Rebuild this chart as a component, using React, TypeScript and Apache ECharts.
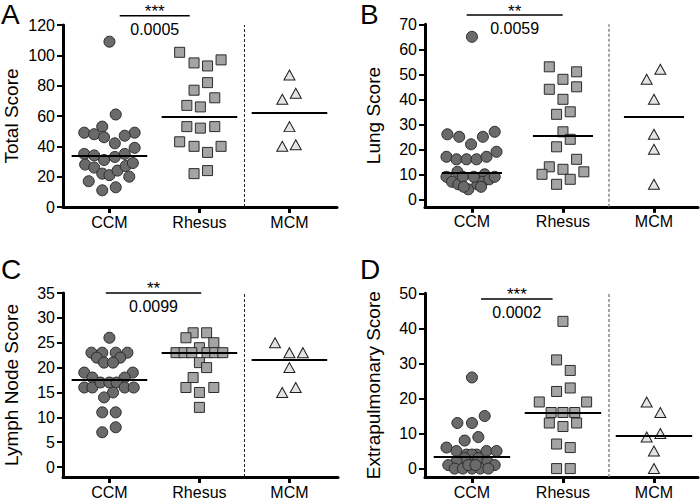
import React, { useEffect, useRef } from "react";
import * as echarts from "echarts";

const groups = ["CCM", "Rhesus", "MCM"];

// Panel A – Total Score
const totalCCM = [109, 61, 53, 49, 48, 46, 49, 47, 42, 39, 35, 34, 31, 33, 35, 28, 26, 22, 21, 24, 27, 29, 20, 17, 11, 13];
const totalCCMJitter = [0, 0.07, -0.08, -0.28, -0.17, -0.06, 0.28, 0.17, 0.06, 0.28, -0.28, -0.17, -0.06, 0.06, 0.17, -0.27, -0.17, -0.08, 0, 0.09, 0.18, 0.26, 0.22, -0.23, -0.08, 0.07];
const totalRhesus = [102, 95, 93, 97, 82, 77, 72, 67, 66, 53, 52, 53, 43, 40, 40, 36, 22, 24];
const totalRhesusJitter = [-0.22, -0.06, 0.09, 0.24, 0.09, -0.06, 0.17, -0.14, 0.01, -0.14, 0.01, 0.17, -0.22, -0.06, 0.24, 0.09, -0.06, 0.09];
const totalMCM = [87, 71, 75, 53, 40, 41];
const totalMCMJitter = [0, -0.08, 0.07, 0, -0.08, 0.07];
const totalTicks = [0, 20, 40, 60, 80, 100, 120];

// Panel B – Lung Score
const lungCCM = [65, 26, 25, 22, 25, 27, 17, 16, 16, 16, 17, 19, 11, 10, 9, 7, 6, 4, 6, 7, 8, 9, 9, 9, 5, 5];
const lungCCMJitter = [0, -0.27, -0.14, -0.01, 0.12, 0.25, -0.28, -0.17, -0.06, 0.05, 0.16, 0.27, -0.16, 0.14, -0.28, -0.22, -0.15, -0.04, 0.06, 0.12, 0.19, 0.25, -0.1, 0.02, -0.09, 0.1];
const lungRhesus = [53, 51, 48, 45, 44, 40, 34, 35, 27, 24, 21, 16, 13, 12, 10, 11, 8, 6];
const lungRhesusJitter = [-0.15, 0.15, 0, 0.15, -0.15, 0, -0.07, 0.08, 0, 0.08, -0.07, 0.15, -0.15, 0, -0.23, 0.23, 0.08, -0.07];
const lungMCM = [52, 48, 40, 26, 20, 6];
const lungMCMJitter = [0.07, -0.08, 0, 0, 0, 0];
const lungTicks = [0, 10, 20, 30, 40, 50, 60, 70];

// Panel C – Lymph Node Score
const lymphCCM = [26, 23, 23, 23, 23, 22, 22, 21, 21, 19, 19, 18, 18, 16, 16, 17, 17, 17, 16, 16, 15, 14, 11, 11, 8, 7];
const lymphCCMJitter = [0, -0.2, -0.08, 0.07, 0.2, -0.14, 0.12, -0.06, 0.04, -0.28, 0.26, -0.19, 0.17, -0.28, -0.19, -0.1, 0, 0.08, 0.17, 0.27, 0.04, -0.06, -0.08, 0.07, 0.07, -0.08];
const lymphRhesus = [27, 27, 26, 25, 24, 23, 23, 23, 23, 23, 23, 21, 20, 18, 16, 16, 15, 12];
const lymphRhesusJitter = [-0.07, 0.08, -0.15, 0.16, 0, -0.26, -0.17, -0.085, 0.085, 0.17, 0.26, 0, 0.08, -0.07, -0.15, 0.16, 0, 0];
const lymphMCM = [25, 23, 23, 20, 15, 16];
const lymphMCMJitter = [-0.16, 0, 0.15, 0, -0.08, 0.07];
const lymphTicks = [0, 5, 10, 15, 20, 25, 30, 35];

// Panel D – Extrapulmonary Score
const extraCCM = [26, 15, 13, 13, 8, 9, 6, 5, 4, 4, 5, 5, 4, 3, 3, 2, 2, 1, 1, 0, 0, 0, 0, 0, 1, 1];
const extraCCMJitter = [0, 0.14, -0.16, 0, -0.08, 0.07, -0.28, -0.17, -0.06, 0.05, 0.16, 0.27, 0, -0.08, 0.07, -0.17, 0.17, -0.26, 0.25, -0.19, -0.1, 0, 0.09, 0.18, -0.04, 0.04];
const extraRhesus = [42, 31, 28, 23, 22, 19, 19, 16, 16, 16, 13, 13, 12, 7, 6, 0, 0];
const extraRhesusJitter = [0, -0.07, 0.08, 0.08, -0.07, -0.26, 0.26, -0.13, 0, 0.13, -0.15, 0.15, 0, -0.07, 0.08, -0.07, 0.08];
const extraMCM = [19, 16, 10, 9, 5, 0];
const extraMCMJitter = [-0.08, 0.07, 0.07, -0.08, 0, 0];
const extraTicks = [0, 10, 20, 30, 40, 50];

const FONT = "'Liberation Sans', Arial, Helvetica, sans-serif";

const median = (arr: number[]) => {
  const s = [...arr].sort((a, b) => a - b);
  const n = s.length;
  return n % 2 ? s[(n - 1) / 2] : (s[n / 2 - 1] + s[n / 2]) / 2;
};

type Panel = {
  letter: string;
  letterPos: [number, number];
  yName: string;
  nameGap: number;
  grid: { left: number; top: number; width: number; height: number };
  xMin: number;
  xMax: number;
  yMin: number;
  yMax: number;
  yTicks: number[];
  data: [number[], number[]][];
  medianHalf: number;
  sig: { stars: string; p: string; x1: number; x2: number; y: number };
  starsDy: number;
  pDy: number;
  dashColor: string;
  dashWidth: number;
};

const panels: Panel[] = [
  {
    letter: "A", letterPos: [1, 0], yName: "Total Score", nameGap: 42,
    grid: { left: 63, top: 25, width: 274, height: 182 },
    xMin: -0.516, xMax: 2.528, yMin: 0, yMax: 120, yTicks: totalTicks,
    data: [[totalCCM, totalCCMJitter], [totalRhesus, totalRhesusJitter], [totalMCM, totalMCMJitter]],
    medianHalf: 0.42,
    sig: { stars: "***", p: "0.0005", x1: 0.114, x2: 0.892, y: 126.1 },
    starsDy: -4, pDy: 14, dashColor: "#222", dashWidth: 1,
  },
  {
    letter: "B", letterPos: [360, 0], yName: "Lung Score", nameGap: 42,
    grid: { left: 425, top: 24.3, width: 273, height: 182.5 },
    xMin: -0.516, xMax: 2.484, yMin: -3, yMax: 70, yTicks: lungTicks,
    data: [[lungCCM, lungCCMJitter], [lungRhesus, lungRhesusJitter], [lungMCM, lungMCMJitter]],
    medianHalf: 0.33,
    sig: { stars: "**", p: "0.0059", x1: -0.058, x2: 0.997, y: 73.7 },
    starsDy: -4, pDy: 13, dashColor: "#888", dashWidth: 1.5,
  },
  {
    letter: "C", letterPos: [1, 255], yName: "Lymph Node Score", nameGap: 42,
    grid: { left: 63, top: 293, width: 275, height: 184 },
    xMin: -0.516, xMax: 2.54, yMin: -2, yMax: 35, yTicks: lymphTicks,
    data: [[lymphCCM, lymphCCMJitter], [lymphRhesus, lymphRhesusJitter], [lymphMCM, lymphMCMJitter]],
    medianHalf: 0.42,
    sig: { stars: "**", p: "0.0099", x1: -0.04, x2: 1.02, y: 35 },
    starsDy: -5, pDy: 13.5, dashColor: "#222", dashWidth: 1,
  },
  {
    letter: "D", letterPos: [360, 255], yName: "Extrapulmonary Score", nameGap: 42,
    grid: { left: 425, top: 293.3, width: 273, height: 183.7 },
    xMin: -0.516, xMax: 2.484, yMin: -2.4, yMax: 50, yTicks: extraTicks,
    data: [[extraCCM, extraCCMJitter], [extraRhesus, extraRhesusJitter], [extraMCM, extraMCMJitter]],
    medianHalf: 0.42,
    sig: { stars: "***", p: "0.0002", x1: 0.1, x2: 0.886, y: 48.4 },
    starsDy: -4, pDy: 13.5, dashColor: "#888", dashWidth: 1.5,
  },
];

const markerStyles = [
  { symbol: "circle", symbolSize: 11, color: "#6a6a6a", border: "#2b2b2b" },
  { symbol: "rect", symbolSize: 10, color: "#a4a4a4", border: "#2b2b2b" },
  { symbol: "triangle", symbolSize: [11, 10], color: "#e4e4e4", border: "#1e1e1e" },
];

export default function App() {
  const ref = useRef<HTMLDivElement>(null);
  useEffect(() => {
    if (!ref.current) return;
    const chart = echarts.init(ref.current, undefined, { renderer: "svg" });

    const grid: any[] = [];
    const xAxis: any[] = [];
    const yAxis: any[] = [];
    const series: any[] = [];

    panels.forEach((p, pi) => {
      grid.push({ ...p.grid, containLabel: false, outerBoundsMode: "none" });
      xAxis.push({
        type: "value",
        gridIndex: pi,
        min: p.xMin,
        max: p.xMax,
        axisLine: { show: true, onZero: false, lineStyle: { color: "#000", width: 3 } },
        axisTick: { show: true, customValues: [0, 1, 2], length: 6, lineStyle: { color: "#000", width: 3 } },
        axisLabel: {
          show: true,
          customValues: [0, 1, 2],
          formatter: (v: number) => groups[Math.round(v)] ?? "",
          color: "#000",
          fontFamily: FONT,
          fontSize: 16,
          margin: 7,
        },
        splitLine: { show: false },
      });
      yAxis.push({
        type: "value",
        gridIndex: pi,
        min: p.yMin,
        max: p.yMax,
        name: p.yName,
        nameLocation: "middle",
        nameGap: p.nameGap,
        nameTextStyle: { fontFamily: FONT, fontSize: 19, color: "#000" },
        axisLine: { show: true, onZero: false, lineStyle: { color: "#000", width: 3 } },
        axisTick: { show: true, customValues: p.yTicks, length: 6, lineStyle: { color: "#000", width: 2 } },
        axisLabel: {
          show: true,
          customValues: p.yTicks,
          color: "#000",
          fontFamily: FONT,
          fontSize: 16,
          margin: 8,
        },
        splitLine: { show: false },
      });
      p.data.forEach(([vals, jit], gi) => {
        const m = markerStyles[gi];
        const med = median(vals);
        const markData: any[] = [
          [
            { coord: [gi - p.medianHalf, med], lineStyle: { color: "#000", width: 2, type: "solid" } },
            { coord: [gi + p.medianHalf, med] },
          ],
        ];
        if (gi === 2) {
          markData.push({
            xAxis: 1.5,
            lineStyle: { color: p.dashColor, width: p.dashWidth, type: [3, 2] },
          });
        }
        series.push({
          type: "scatter",
          xAxisIndex: pi,
          yAxisIndex: pi,
          symbol: m.symbol,
          symbolSize: m.symbolSize,
          itemStyle: { color: m.color, borderColor: m.border, borderWidth: 1, opacity: 1 },
          data: vals.map((v, i) => [gi + jit[i], v]),
          markLine: {
            silent: true,
            symbol: ["none", "none"],
            label: { show: false },
            animation: false,
            data: markData,
          },
        });
      });
    });

    chart.setOption({
      animation: false,
      grid,
      xAxis,
      yAxis,
      series,
    });

    const graphic: any[] = [];
    panels.forEach((p, pi) => {
      graphic.push({
        type: "text",
        x: p.letterPos[0],
        y: p.letterPos[1],
        style: {
          text: p.letter,
          font: `28px ${FONT}`,
          fill: "#000",
          align: "left",
          verticalAlign: "top",
        },
      });
      const a = chart.convertToPixel({ gridIndex: pi } as any, [p.sig.x1, p.sig.y]) as number[];
      const b = chart.convertToPixel({ gridIndex: pi } as any, [p.sig.x2, p.sig.y]) as number[];
      const cx = (a[0] + b[0]) / 2;
      graphic.push({
        type: "line",
        shape: { x1: a[0], y1: a[1], x2: b[0], y2: b[1] },
        style: { stroke: "#000", lineWidth: 1.5 },
      });
      graphic.push({
        type: "text",
        x: cx,
        y: a[1] + p.starsDy,
        style: {
          text: p.sig.stars,
          font: `17px ${FONT}`,
          lineHeight: 12,
          fill: "#000",
          align: "center",
          verticalAlign: "middle",
        },
      });
      graphic.push({
        type: "text",
        x: cx,
        y: a[1] + p.pDy,
        style: {
          text: p.sig.p,
          font: `16px ${FONT}`,
          lineHeight: 14,
          fill: "#000",
          align: "center",
          verticalAlign: "middle",
        },
      });
    });
    chart.setOption({ graphic });

    return () => chart.dispose();
  }, []);

  return (
    <div
      ref={ref}
      style={{ position: "fixed", left: 0, top: 0, width: 700, height: 500, background: "#fff" }}
    />
  );
}
